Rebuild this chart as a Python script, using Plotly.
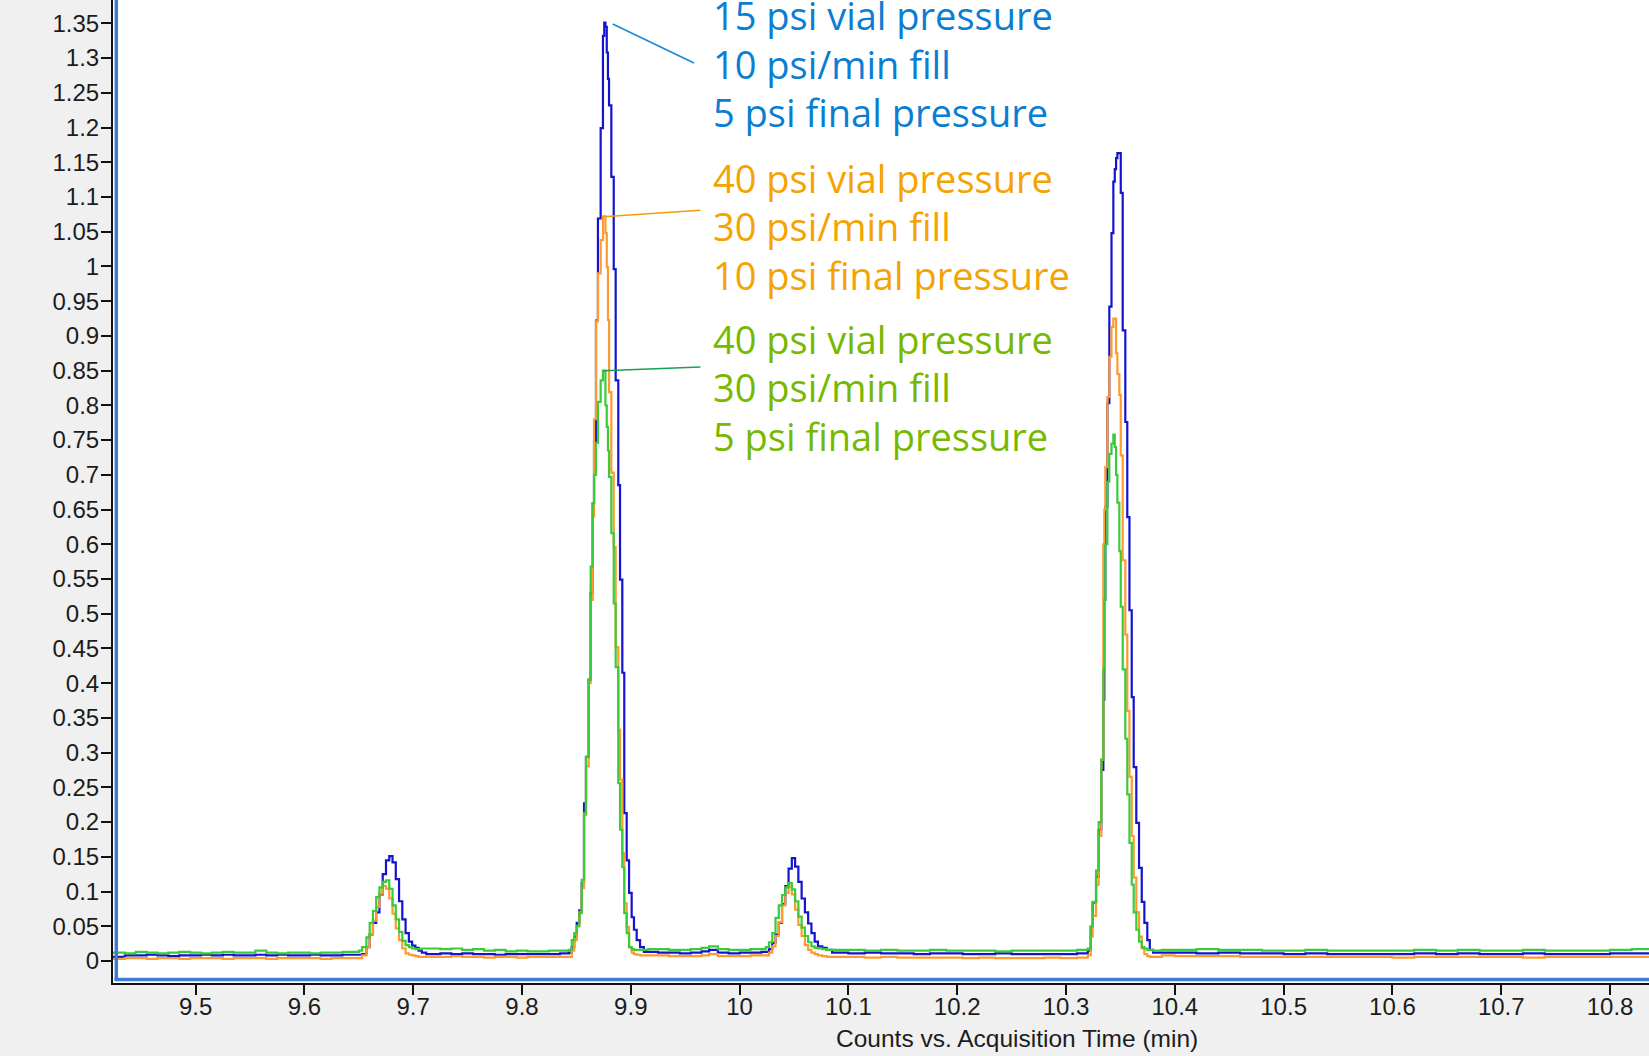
import plotly.graph_objects as go

# ---------------- data ----------------
x_tick_values = [9.5, 9.6, 9.7, 9.8, 9.9, 10.0, 10.1, 10.2, 10.3, 10.4, 10.5, 10.6, 10.7, 10.8]
x_tick_labels = ["9.5", "9.6", "9.7", "9.8", "9.9", "10", "10.1", "10.2", "10.3", "10.4", "10.5", "10.6", "10.7", "10.8"]
y_tick_values = [0, 0.05, 0.1, 0.15, 0.2, 0.25, 0.3, 0.35, 0.4, 0.45, 0.5, 0.55, 0.6, 0.65,
                 0.7, 0.75, 0.8, 0.85, 0.9, 0.95, 1.0, 1.05, 1.1, 1.15, 1.2, 1.25, 1.3, 1.35]
y_tick_labels = ["0", "0.05", "0.1", "0.15", "0.2", "0.25", "0.3", "0.35", "0.4", "0.45", "0.5", "0.55", "0.6", "0.65",
                 "0.7", "0.75", "0.8", "0.85", "0.9", "0.95", "1", "1.05", "1.1", "1.15", "1.2", "1.25", "1.3", "1.35"]

# baseline before peak 1
time_base_a = [9.424, 9.435, 9.445, 9.455, 9.465, 9.475, 9.485, 9.495, 9.505, 9.515, 9.525, 9.535,
               9.545, 9.555, 9.565, 9.575, 9.585, 9.595, 9.605, 9.615, 9.625, 9.635, 9.645]
blue_base_a = [0.006, 0.008, 0.008, 0.009, 0.008, 0.007, 0.008, 0.008, 0.009, 0.008, 0.009, 0.008,
               0.008, 0.009, 0.008, 0.009, 0.008, 0.008, 0.009, 0.008, 0.008, 0.009, 0.009]
orange_base_a = [0.003, 0.004, 0.004, 0.003, 0.004, 0.004, 0.003, 0.004, 0.004, 0.004, 0.003, 0.004,
                 0.004, 0.004, 0.003, 0.004, 0.004, 0.004, 0.004, 0.003, 0.004, 0.004, 0.004]
green_base_a = [0.012, 0.011, 0.013, 0.012, 0.011, 0.012, 0.013, 0.012, 0.011, 0.012, 0.013, 0.012,
                0.012, 0.015, 0.012, 0.011, 0.012, 0.012, 0.011, 0.012, 0.012, 0.013, 0.013]

# peak 1 (~9.68 min)
time_p1 = [9.650, 9.653, 9.657, 9.660, 9.663, 9.666, 9.669, 9.672, 9.675, 9.678, 9.681,
           9.684, 9.687, 9.690, 9.693, 9.696, 9.699, 9.702, 9.705, 9.708, 9.712]
blue_p1 = [0.009, 0.010, 0.020, 0.038, 0.055, 0.070, 0.096, 0.125, 0.145, 0.151, 0.142,
           0.118, 0.086, 0.060, 0.040, 0.028, 0.022, 0.019, 0.015, 0.012, 0.010]
orange_p1 = [0.004, 0.008, 0.020, 0.038, 0.058, 0.078, 0.097, 0.108, 0.104, 0.090, 0.068,
             0.047, 0.030, 0.018, 0.011, 0.009, 0.008, 0.007, 0.006, 0.006, 0.006]
green_p1 = [0.015, 0.020, 0.034, 0.055, 0.072, 0.092, 0.106, 0.114, 0.116, 0.104, 0.080,
            0.060, 0.042, 0.029, 0.023, 0.020, 0.018, 0.017, 0.017, 0.018, 0.018]

# baseline between peak 1 and peak 2
time_base_b = [9.716, 9.725, 9.735, 9.745, 9.755, 9.765, 9.775, 9.785, 9.795, 9.805, 9.815, 9.825, 9.835]
blue_base_b = [0.010, 0.011, 0.010, 0.011, 0.010, 0.010, 0.009, 0.010, 0.010, 0.010, 0.010, 0.010, 0.011]
orange_base_b = [0.006, 0.006, 0.007, 0.006, 0.006, 0.005, 0.006, 0.006, 0.005, 0.006, 0.006, 0.006, 0.006]
green_base_b = [0.018, 0.017, 0.018, 0.016, 0.017, 0.015, 0.016, 0.014, 0.015, 0.014, 0.014, 0.015, 0.015]

# peak 2 (~9.876 min)
time_p2 = [9.8430, 9.8457, 9.8480, 9.8503, 9.8527, 9.8549, 9.8570, 9.8588, 9.8613, 9.8631, 9.8650, 9.8662,
           9.8680, 9.8698, 9.8723, 9.8744, 9.8756, 9.8767, 9.8779, 9.8790, 9.8800, 9.8821, 9.8843, 9.8861,
           9.8885, 9.8901, 9.8922, 9.8940, 9.8962, 9.8984, 9.9008, 9.9029, 9.9054, 9.9085, 9.9120]
blue_p2 = [0.012, 0.020, 0.035, 0.055, 0.073, 0.112, 0.227, 0.294, 0.405, 0.530, 0.659, 0.748,
           0.922, 1.069, 1.199, 1.332, 1.351, 1.345, 1.308, 1.270, 1.232, 1.129, 0.996, 0.836,
           0.685, 0.549, 0.415, 0.213, 0.145, 0.098, 0.063, 0.045, 0.030, 0.020, 0.013]
orange_p2 = [0.006, 0.015, 0.030, 0.050, 0.070, 0.105, 0.210, 0.280, 0.400, 0.520, 0.640, 0.780,
             0.921, 0.990, 1.038, 1.072, 1.072, 1.048, 0.999, 0.923, 0.819, 0.703, 0.596, 0.452,
             0.333, 0.261, 0.155, 0.083, 0.049, 0.020, 0.012, 0.010, 0.009, 0.008, 0.008]
green_p2 = [0.016, 0.030, 0.040, 0.050, 0.069, 0.117, 0.213, 0.294, 0.405, 0.568, 0.659, 0.700,
            0.746, 0.805, 0.836, 0.850, 0.850, 0.800, 0.769, 0.735, 0.697, 0.616, 0.515, 0.423,
            0.256, 0.189, 0.135, 0.069, 0.040, 0.020, 0.017, 0.016, 0.016, 0.016, 0.016]

# baseline between peak 2 and peak 3
time_base_c = [9.916, 9.925, 9.935, 9.945, 9.955, 9.965, 9.972, 9.980, 9.990, 10.000, 10.010, 10.020]
blue_base_c = [0.013, 0.012, 0.012, 0.011, 0.012, 0.014, 0.016, 0.012, 0.011, 0.012, 0.012, 0.013]
orange_base_c = [0.008, 0.008, 0.007, 0.007, 0.007, 0.008, 0.010, 0.007, 0.007, 0.007, 0.008, 0.008]
green_base_c = [0.017, 0.017, 0.016, 0.016, 0.017, 0.019, 0.021, 0.017, 0.016, 0.016, 0.017, 0.017]

# peak 3 (~10.047 min)
time_p3 = [10.024, 10.027, 10.030, 10.033, 10.036, 10.039, 10.042, 10.045, 10.048, 10.051,
           10.054, 10.057, 10.060, 10.063, 10.066, 10.069, 10.072, 10.076, 10.080]
blue_p3 = [0.013, 0.017, 0.026, 0.038, 0.055, 0.082, 0.108, 0.133, 0.148, 0.136,
           0.114, 0.090, 0.070, 0.054, 0.040, 0.028, 0.021, 0.019, 0.016]
orange_p3 = [0.008, 0.012, 0.021, 0.036, 0.056, 0.080, 0.098, 0.107, 0.096, 0.074,
             0.052, 0.036, 0.023, 0.016, 0.012, 0.010, 0.008, 0.007, 0.006]
green_p3 = [0.020, 0.027, 0.040, 0.062, 0.080, 0.095, 0.106, 0.112, 0.103, 0.086,
            0.064, 0.048, 0.036, 0.027, 0.021, 0.019, 0.018, 0.017, 0.016]

# baseline between peak 3 and peak 4
time_base_d = [10.085, 10.100, 10.115, 10.130, 10.145, 10.160, 10.175, 10.190,
               10.205, 10.220, 10.235, 10.250, 10.265, 10.280, 10.295, 10.310]
blue_base_d = [0.012, 0.011, 0.012, 0.011, 0.011, 0.010, 0.011, 0.011,
               0.010, 0.010, 0.011, 0.010, 0.010, 0.010, 0.010, 0.011]
orange_base_d = [0.006, 0.006, 0.005, 0.006, 0.005, 0.005, 0.005, 0.005,
                 0.004, 0.005, 0.004, 0.004, 0.004, 0.005, 0.004, 0.005]
green_base_d = [0.016, 0.016, 0.015, 0.016, 0.015, 0.015, 0.016, 0.015,
                0.015, 0.015, 0.014, 0.015, 0.015, 0.015, 0.015, 0.016]

# peak 4 (~10.348 min)
time_p4 = [10.3200, 10.3227, 10.3245, 10.3276, 10.3300, 10.3324, 10.3343, 10.3352, 10.3361, 10.3380,
           10.3398, 10.3418, 10.3435, 10.3448, 10.3460, 10.3472, 10.3490, 10.3503, 10.3521, 10.3545,
           10.3563, 10.3583, 10.3604, 10.3622, 10.3646, 10.3671, 10.3696, 10.3720, 10.3747, 10.3770, 10.3800]
blue_p4 = [0.015, 0.049, 0.084, 0.121, 0.189, 0.275, 0.376, 0.520, 0.654, 0.803,
           0.942, 1.048, 1.122, 1.140, 1.156, 1.163, 1.163, 1.106, 0.908, 0.776,
           0.639, 0.505, 0.380, 0.279, 0.199, 0.134, 0.085, 0.055, 0.030, 0.016, 0.012]
orange_p4 = [0.008, 0.035, 0.065, 0.110, 0.180, 0.290, 0.600, 0.650, 0.711, 0.812,
             0.870, 0.913, 0.925, 0.925, 0.875, 0.845, 0.815, 0.728, 0.577, 0.470,
             0.360, 0.265, 0.180, 0.120, 0.070, 0.035, 0.018, 0.010, 0.007, 0.006, 0.006]
green_p4 = [0.018, 0.050, 0.085, 0.130, 0.200, 0.290, 0.420, 0.520, 0.600, 0.690,
            0.730, 0.745, 0.758, 0.740, 0.700, 0.660, 0.590, 0.510, 0.420, 0.320,
            0.240, 0.170, 0.110, 0.070, 0.045, 0.028, 0.020, 0.018, 0.016, 0.016, 0.015]

# baseline after peak 4
time_base_e = [10.388, 10.400, 10.420, 10.440, 10.460, 10.480, 10.500, 10.520, 10.540, 10.560, 10.580, 10.600,
               10.620, 10.640, 10.660, 10.680, 10.700, 10.720, 10.740, 10.760, 10.780, 10.800, 10.820, 10.836]
blue_base_e = [0.012, 0.012, 0.011, 0.012, 0.011, 0.011, 0.010, 0.011, 0.010, 0.010, 0.010, 0.010,
               0.011, 0.010, 0.011, 0.010, 0.010, 0.011, 0.010, 0.010, 0.010, 0.011, 0.011, 0.010]
orange_base_e = [0.008, 0.007, 0.007, 0.007, 0.006, 0.006, 0.006, 0.006, 0.006, 0.006, 0.006, 0.005,
                 0.006, 0.006, 0.006, 0.006, 0.006, 0.005, 0.006, 0.006, 0.006, 0.006, 0.006, 0.006]
green_base_e = [0.016, 0.016, 0.017, 0.016, 0.016, 0.015, 0.015, 0.016, 0.015, 0.015, 0.015, 0.015,
                0.016, 0.015, 0.016, 0.015, 0.015, 0.016, 0.015, 0.015, 0.015, 0.016, 0.017, 0.016]

series_labels = [
    ["15 psi vial pressure", "10 psi/min fill", "5 psi final pressure"],
    ["40 psi vial pressure", "30 psi/min fill", "10 psi final pressure"],
    ["40 psi vial pressure", "30 psi/min fill", "5 psi final pressure"],
]

# ---------------- assemble ----------------
time_all = time_base_a + time_p1 + time_base_b + time_p2 + time_base_c + time_p3 + time_base_d + time_p4 + time_base_e
blue_all = blue_base_a + blue_p1 + blue_base_b + blue_p2 + blue_base_c + blue_p3 + blue_base_d + blue_p4 + blue_base_e
orange_all = orange_base_a + orange_p1 + orange_base_b + orange_p2 + orange_base_c + orange_p3 + orange_base_d + orange_p4 + orange_base_e
green_all = green_base_a + green_p1 + green_base_b + green_p2 + green_base_c + green_p3 + green_base_d + green_p4 + green_base_e

W, H = 1649, 1056
ML, MB = 113, 73
PW, PH = W - ML, H - MB


def px(x):
    return (x - ML) / PW


def py(y):
    return 1 - y / PH


trace_colors = ["#1414D0", "#FF9A2E", "#3ACB3A"]
text_colors = ["#0A7ED3", "#F5A300", "#77B900"]
conn_colors = ["#1787D6", "#F2A000", "#12A356"]

fig = go.Figure()
for vals, col in zip([blue_all, orange_all, green_all], trace_colors):
    fig.add_trace(go.Scatter(x=time_all, y=vals, mode="lines",
                             line=dict(color=col, width=2.2, shape="hv"),
                             hoverinfo="skip", showlegend=False))

tick_font = dict(family="Liberation Sans, Arial, sans-serif", size=24, color="#1c1c1c")

fig.update_layout(
    width=W, height=H,
    margin=dict(l=ML, r=0, t=0, b=MB, pad=0),
    paper_bgcolor="#F0F0F0",
    plot_bgcolor="#FFFFFF",
    showlegend=False,
    xaxis=dict(range=[9.4241, 10.8358], tickvals=x_tick_values, ticktext=x_tick_labels,
               ticks="outside", ticklen=10, tickwidth=2, tickcolor="#111111",
               showline=True, linecolor="#111111", linewidth=2, ticklabelstandoff=-9,
               showgrid=False, zeroline=False, tickfont=tick_font),
    yaxis=dict(range=[-0.03167, 1.3836], tickvals=y_tick_values, ticktext=y_tick_labels,
               ticks="outside", ticklen=10, tickwidth=2, tickcolor="#111111",
               showline=True, linecolor="#111111", linewidth=2, ticklabelstandoff=-3,
               showgrid=False, zeroline=False, tickfont=tick_font),
)

# blue frame lines inside the black axes
frame_col = "#3F7BD3"
fig.add_shape(type="line", xref="paper", yref="paper", x0=px(116.3), x1=px(116.3), y0=py(979.5), y1=1,
              line=dict(color=frame_col, width=3.5), layer="above")
fig.add_shape(type="line", xref="paper", yref="paper", x0=px(114.5), x1=1, y0=py(979.5), y1=py(979.5),
              line=dict(color=frame_col, width=3.5), layer="above")

# connector lines from peaks to labels
connectors = [((612.7, 24), (694, 63)), ((603.3, 216.7), (700.4, 210.3)), ((603.3, 370.7), (700.4, 367))]
for (a, b), col in zip(connectors, conn_colors):
    fig.add_shape(type="line", xref="paper", yref="paper", x0=px(a[0]), y0=py(a[1]), x1=px(b[0]), y1=py(b[1]),
                  line=dict(color=col, width=1.5), layer="above")

# label blocks
block_tops = [15.5, 177.5, 338.5]
line_gap = 48.5
for lines, col, top in zip(series_labels, text_colors, block_tops):
    for i, txt in enumerate(lines):
        fig.add_annotation(xref="paper", yref="paper", x=px(711), y=py(top + i * line_gap),
                           xanchor="left", yanchor="middle", showarrow=False, text=txt,
                           font=dict(family="Open Sans, Noto Sans, sans-serif", size=38, color=col))

# axis title
fig.add_annotation(xref="paper", yref="paper", x=px(1016.5), y=py(1038), xanchor="center", yanchor="middle",
                   showarrow=False, text="Counts vs. Acquisition Time (min)",
                   font=dict(family="Liberation Sans, Arial, sans-serif", size=24.5, color="#1c1c1c"))

fig.write_html("out.html")
